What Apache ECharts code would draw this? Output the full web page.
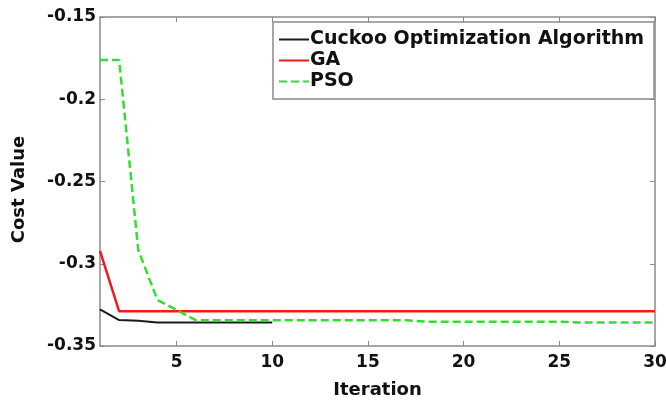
<!DOCTYPE html>
<html>
<head>
<meta charset="utf-8">
<script src="https://cdn.jsdelivr.net/npm/echarts@6/dist/echarts.min.js"></script>
<style>
  html, body { margin: 0; padding: 0; background: #ffffff; }
  #chart { width: 666px; height: 400px; }
</style>
</head>
<body>
<div id="chart"></div>
<script>
// Convergence of cost value per iteration for three optimizers
const iterations = [1, 2, 3, 4, 5, 6, 7, 8, 9, 10, 11, 12, 13, 14, 15,
                    16, 17, 18, 19, 20, 21, 22, 23, 24, 25, 26, 27, 28, 29, 30];
const cuckooIterations = [1, 2, 3, 4, 5, 6, 7, 8, 9, 10];
const cuckooCost = [-0.3277, -0.3342, -0.3346, -0.3357, -0.3357, -0.3357, -0.3357, -0.3357, -0.3357, -0.3357];
const gaCost = [-0.2921, -0.3289, -0.3289, -0.3289, -0.3289, -0.3289, -0.3289, -0.3289, -0.3289, -0.3289,
                -0.3289, -0.3289, -0.3289, -0.3289, -0.3289, -0.3289, -0.3289, -0.3289, -0.3289, -0.3289,
                -0.3289, -0.3289, -0.3289, -0.3289, -0.3289, -0.3289, -0.3289, -0.3289, -0.3289, -0.3289];
const psoCost = [-0.1761, -0.1761, -0.2916, -0.3220, -0.3281, -0.3343, -0.3343, -0.3343, -0.3343, -0.3343,
                 -0.3343, -0.3343, -0.3343, -0.3343, -0.3343, -0.3343, -0.3343, -0.3352, -0.3352, -0.3352,
                 -0.3352, -0.3352, -0.3352, -0.3352, -0.3352, -0.3357, -0.3357, -0.3357, -0.3357, -0.3357];
const xTicks = [5, 10, 15, 20, 25, 30];
const seriesNames = ['Cuckoo Optimization Algorithm', 'GA', 'PSO'];

function pairs(xs, ys) {
  return ys.map((y, i) => [xs[i], y]);
}

const FONT = 'DejaVu Sans';
const axisGray = '#8a8a8a';

const chart = echarts.init(document.getElementById('chart'), null, { renderer: 'canvas' });

chart.setOption({
  animation: false,
  backgroundColor: '#ffffff',
  grid: { left: 100, right: 11, top: 17, bottom: 54, containLabel: false, outerBoundsMode: 'none' },
  legend: {
    data: seriesNames,
    orient: 'vertical',
    left: 273,
    top: 22,
    itemWidth: 30,
    itemHeight: 14,
    itemGap: 2,
    padding: [8, 10, 8, 5],
    borderColor: axisGray,
    borderWidth: 1.5,
    borderRadius: 0,
    backgroundColor: '#ffffff',
    // line-only keys: hide the point marker drawn on each legend line
    itemStyle: { opacity: 0 },
    textStyle: { fontFamily: FONT, fontWeight: 'bold', fontSize: 19, color: '#111', padding: [0, 0, 0, -4] }
  },
  xAxis: [
    {
      type: 'value',
      min: 1,
      max: 30,
      name: 'Iteration',
      nameLocation: 'middle',
      nameGap: 35,
      nameTextStyle: { fontFamily: FONT, fontWeight: 'bold', fontSize: 18, color: '#111' },
      axisLine: { show: true, onZero: false, lineStyle: { color: axisGray, width: 1.5 } },
      axisTick: { show: true, inside: true, length: 5, customValues: xTicks, lineStyle: { color: axisGray } },
      axisLabel: { show: true, customValues: xTicks, margin: 8, fontFamily: FONT, fontWeight: 'bold', fontSize: 17, color: '#111' },
      splitLine: { show: false }
    },
    {
      type: 'value',
      min: 1,
      max: 30,
      position: 'top',
      axisLine: { show: true, onZero: false, lineStyle: { color: axisGray, width: 1.5 } },
      axisTick: { show: true, inside: true, length: 5, customValues: xTicks, lineStyle: { color: axisGray } },
      axisLabel: { show: false },
      splitLine: { show: false }
    }
  ],
  yAxis: [
    {
      type: 'value',
      min: -0.35,
      max: -0.15,
      interval: 0.05,
      name: 'Cost Value',
      nameLocation: 'middle',
      nameGap: 72,
      nameTextStyle: { fontFamily: FONT, fontWeight: 'bold', fontSize: 18, color: '#111', padding: [0, 16, 0, 0] },
      axisLine: { show: true, onZero: false, lineStyle: { color: axisGray, width: 1.5 } },
      axisTick: { show: true, inside: true, length: 5, lineStyle: { color: axisGray } },
      axisLabel: { show: true, margin: 4, fontFamily: FONT, fontWeight: 'bold', fontSize: 17, color: '#111' },
      splitLine: { show: false }
    },
    {
      type: 'value',
      min: -0.35,
      max: -0.15,
      interval: 0.05,
      position: 'right',
      axisLine: { show: true, onZero: false, lineStyle: { color: axisGray, width: 1.5 } },
      axisTick: { show: true, inside: true, length: 5, lineStyle: { color: axisGray } },
      axisLabel: { show: false },
      splitLine: { show: false }
    }
  ],
  series: [
    {
      name: seriesNames[0],
      type: 'line',
      data: pairs(cuckooIterations, cuckooCost),
      symbol: 'none',
      itemStyle: { color: '#1a1a1a' },
      lineStyle: { color: '#1a1a1a', width: 2 },
      z: 4
    },
    {
      name: seriesNames[1],
      type: 'line',
      data: pairs(iterations, gaCost),
      symbol: 'none',
      itemStyle: { color: '#f01a1a' },
      lineStyle: { color: '#f01a1a', width: 2.5 },
      z: 3
    },
    {
      name: seriesNames[2],
      type: 'line',
      data: pairs(iterations, psoCost),
      symbol: 'none',
      itemStyle: { color: '#33dd33' },
      lineStyle: { color: '#33dd33', width: 2.5, type: [8, 4] },
      z: 5
    }
  ]
});
</script>
</body>
</html>
